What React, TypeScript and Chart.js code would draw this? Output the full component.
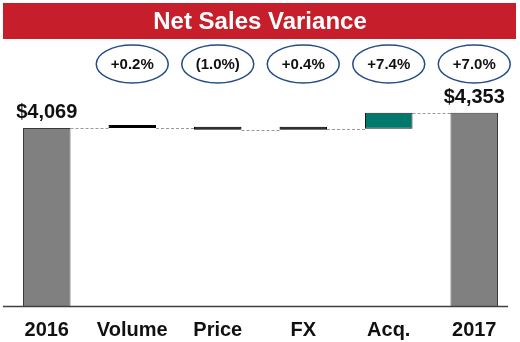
import React, { useEffect, useRef } from 'react';
import { Chart, registerables } from 'chart.js';

Chart.register(...registerables);

const title = 'Net Sales Variance';
const categories = ['2016', 'Volume', 'Price', 'FX', 'Acq.', '2017'];
const startTotal = 4069;
const endTotal = 4353;
const changes = [8, -41, 16, 301];
const pctLabels = ['+0.2%', '(1.0%)', '+0.4%', '+7.4%', '+7.0%'];
const totalLabels = ['$4,069', '$4,353'];
const yMin = 750;
const yMax = 5000;

const barColors = ['#808080', '#000000', '#000000', '#000000', '#00796C', '#808080'];
const borderColors = ['#3a3a3a', '#000000', '#000000', '#000000', '#1a1a1a', '#3a3a3a'];

const FONT = '"Liberation Sans", Arial, Helvetica, sans-serif';

function buildBars() {
  const data: any[] = [startTotal];
  const levels: number[] = [startTotal];
  let run = startTotal;
  for (const c of changes) {
    data.push([run, run + c]);
    run += c;
    levels.push(run);
  }
  data.push(endTotal);
  levels.push(endTotal);
  return { data, levels };
}

export default function App() {
  const ref = useRef<HTMLCanvasElement | null>(null);

  useEffect(() => {
    if (!ref.current) return;
    const { data, levels } = buildBars();

    const decor = {
      id: 'decor',
      beforeDatasetsDraw(chart: any) {
        const ctx = chart.ctx;
        const meta = chart.getDatasetMeta(0);
        const y = chart.scales.y;
        ctx.save();
        ctx.strokeStyle = '#9a9a9a';
        ctx.lineWidth = 1;
        ctx.setLineDash([3, 2]);
        for (let i = 0; i < meta.data.length - 1; i++) {
          const a = meta.data[i];
          const b = meta.data[i + 1];
          const py = Math.round(y.getPixelForValue(levels[i])) + 0.5;
          ctx.beginPath();
          ctx.moveTo(a.x + a.width / 2, py);
          ctx.lineTo(b.x - b.width / 2, py);
          ctx.stroke();
        }
        ctx.restore();
      },
      afterDraw(chart: any) {
        const ctx = chart.ctx;
        const meta = chart.getDatasetMeta(0);
        const area = chart.chartArea;
        ctx.save();
        // axis line
        ctx.strokeStyle = '#404040';
        ctx.lineWidth = 1.5;
        ctx.beginPath();
        ctx.moveTo(area.left - 1, area.bottom + 0.5);
        ctx.lineTo(area.right - 9, area.bottom + 0.5);
        ctx.stroke();

        // title banner
        ctx.fillStyle = '#C61F2B';
        ctx.fillRect(3, 3, 513, 36);
        ctx.fillStyle = '#ffffff';
        ctx.font = `bold 24px ${FONT}`;
        ctx.textAlign = 'center';
        ctx.textBaseline = 'middle';
        ctx.fillText(title, 260, 22);

        // total labels
        ctx.fillStyle = '#111111';
        ctx.font = `bold 20px ${FONT}`;
        ctx.textBaseline = 'alphabetic';
        const first = meta.data[0];
        const last = meta.data[meta.data.length - 1];
        ctx.fillText(totalLabels[0], first.x, first.y - 10);
        ctx.fillText(totalLabels[1], last.x, last.y - 10);

        // ellipses
        for (let i = 0; i < pctLabels.length; i++) {
          const el = meta.data[i + 1];
          const cx = el.x;
          const cy = 64;
          ctx.beginPath();
          ctx.ellipse(cx, cy, 36, 19, 0, 0, Math.PI * 2);
          ctx.fillStyle = '#ffffff';
          ctx.fill();
          ctx.strokeStyle = '#244C8A';
          ctx.lineWidth = 1.5;
          ctx.stroke();
          ctx.fillStyle = '#111111';
          ctx.font = `bold 15px ${FONT}`;
          ctx.textBaseline = 'middle';
          ctx.fillText(pctLabels[i], cx, cy + 1);
        }
        ctx.restore();
      },
    };

    const chart = new Chart(ref.current, {
      type: 'bar',
      data: {
        labels: categories,
        datasets: [
          {
            data,
            backgroundColor: barColors,
            borderColor: borderColors,
            borderWidth: 1,
            borderSkipped: false,
            minBarLength: 3,
            categoryPercentage: 1,
            barPercentage: 0.556,
          } as any,
        ],
      },
      options: {
        animation: false,
        responsive: true,
        maintainAspectRatio: false,
        layout: { padding: { top: 78, left: 4, right: 3, bottom: 0 } },
        plugins: {
          legend: { display: false },
          tooltip: { enabled: false },
          title: { display: false },
        },
        scales: {
          x: {
            grid: { display: false, drawTicks: false },
            border: { display: false },
            afterFit: (scale: any) => {
              scale.height = 36;
            },
            ticks: {
              padding: 12,
              color: '#111111',
              font: { family: FONT, size: 20, weight: 'bold' },
              maxRotation: 0,
              autoSkip: false,
            },
          },
          y: {
            display: false,
            min: yMin,
            max: yMax,
          },
        },
      },
      plugins: [decor],
    });

    return () => chart.destroy();
  }, []);

  return (
    <div style={{ position: 'absolute', left: 0, top: 0, width: 520, height: 342, background: '#ffffff' }}>
      <canvas ref={ref} />
    </div>
  );
}
